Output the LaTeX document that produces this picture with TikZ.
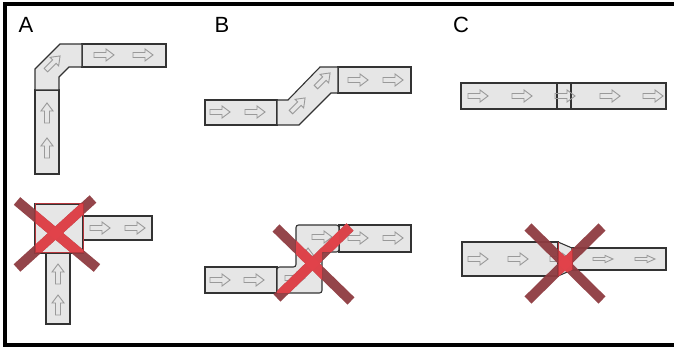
\documentclass[tikz,border=0pt]{standalone}
\usepackage{fontspec}
\setmainfont{Liberation Sans}
\usetikzlibrary{calc}

\definecolor{barfill}{HTML}{E6E6E6}
\definecolor{baredge}{HTML}{333333}
\definecolor{arrowedge}{HTML}{999999}
\definecolor{crossdark}{HTML}{8E3B40}
\definecolor{crossred}{HTML}{E2434B}

% hollow flow arrow: position, angle
\newcommand{\flow}[3][]{\draw[flowarrow,shift={(#2)},rotate=#3,#1] (-10,-2.5) -- (2,-2.5) -- (2,-6) -- (10,0) -- (2,6) -- (2,2.5) -- (-10,2.5) -- cycle;}

\begin{document}
\begin{tikzpicture}[x=1pt,y=-1pt,
  bar/.style={fill=barfill,draw=baredge,line width=1.1pt},
  flowarrow/.style={draw=arrowedge,line width=0.9pt},
  cross/.style={line width=10pt,color=crossdark,opacity=0.95},
  crossin/.style={line width=10pt,color=crossred,opacity=0.95},
  label/.style={font=\fontsize{22}{26}\selectfont}]
\clip (0,0) rectangle (674,347);
\draw[line width=4pt] (5,4.5) rectangle (700,345);

\node[label] (labA) at (26,25) {A};
\node[label] (labB) at (222,25) {B};
\node[label] (labC) at (461,25) {C};

% A, top
\draw[bar] (35,90) rectangle (59,174);
\draw[bar] (82,44) rectangle (166,67);
\draw[bar] (35,90) -- (59,90) -- (59,77) -- (69,67) -- (82,67) -- (82,44) -- (60,44) -- (35,69) -- cycle;
\flow{47,148}{90} \flow{47,113}{90}
\flow{53,63}{45}
\flow{104,55}{0} \flow{143,55}{0}

% A, bottom
\draw[bar] (83,216) rectangle (152,240);
\draw[bar] (46,253) rectangle (70,324);
\draw[bar] (35,204) rectangle (83,253);
\flow{58,305}{90} \flow{58,274}{90}
\flow{100,228}{0} \flow{135,228}{0}
\draw[cross] (17,201) -- (97,268);
\draw[cross] (93,199) -- (17,268);
\begin{scope}
\clip (35,204) rectangle (83,253);
\draw[crossin] (17,201) -- (97,268);
\draw[crossin] (93,199) -- (17,268);
\end{scope}
\draw[crossred!80!black,line width=1pt] (35,204) rectangle (83,253);

% B, top
\draw[bar] (205,100) rectangle (277,125);
\draw[bar] (338,67) rectangle (411,93);
\draw[bar] (277,100) -- (288,100) -- (320,67) -- (338,67) -- (338,93) -- (331,93) -- (299,125) -- (277,125) -- cycle;
\flow{220,112}{0} \flow{255,112}{0}
\flow{298,105}{45} \flow{323,80}{45}
\flow{358,80}{0} \flow{393,80}{0}

% B, bottom
\draw[bar] (205,267) rectangle (277,293);
\draw[bar] (339,225) rectangle (411,252);
\draw[bar,rounded corners=2.5pt] (277,267) -- (296,267) -- (296,225) -- (339,225) -- (339,252) -- (322,252) -- (322,293) -- (277,293) -- cycle;
\flow{220,280}{0} \flow{254,280}{0}
\flow{295,278}{0} \flow{308,258}{90} \flow{322,237}{0}
\flow{358,238}{0} \flow{393,238}{0}
\draw[cross] (276,228) -- (351,301);
\draw[cross] (277,298) -- (350,227);
\begin{scope}
\clip (277,267) -- (296,267) -- (296,225) -- (339,225) -- (339,252) -- (322,252) -- (322,293) -- (277,293) -- cycle;
\draw[crossin] (276,228) -- (351,301);
\draw[crossin] (277,298) -- (350,227);
\end{scope}
\draw[crossin,opacity=0.9] ($(277,298)!0.75!(350,227)$) -- (350,227);

% C, top
\fill[barfill] (461,83) rectangle (571,109);
\fill[barfill] (557,83) rectangle (666,109);
\draw[bar,fill=none] (461,83) rectangle (571,109);
\draw[bar,fill=none] (557,83) rectangle (666,109);
\flow{478,96}{0} \flow{522,96}{0} \flow{565,96}{0} \flow{610,96}{0} \flow{653,96}{0}

% C, bottom
\draw[bar] (462,242) rectangle (558,276);
\draw[bar] (572,248) rectangle (666,270);
\draw[bar] (558,242) -- (572,248) -- (572,270) -- (558,276) -- cycle;
\flow{478,259}{0} \flow{518,259}{0} \flow{560,259}{0}
\flow[yscale=0.6]{603,259}{0} \flow[yscale=0.6]{645,259}{0}
\draw[cross] (528,227) -- (602,300);
\draw[cross] (528,300) -- (602,227);
\begin{scope}
\clip (558,242) -- (572,248) -- (572,270) -- (558,276) -- cycle;
\draw[crossin] (528,227) -- (602,300);
\draw[crossin] (528,300) -- (602,227);
\end{scope}
\draw[crossred!80!black,line width=1pt] (558,242) -- (558,276) (572,248) -- (572,270);
\end{tikzpicture}
\end{document}
